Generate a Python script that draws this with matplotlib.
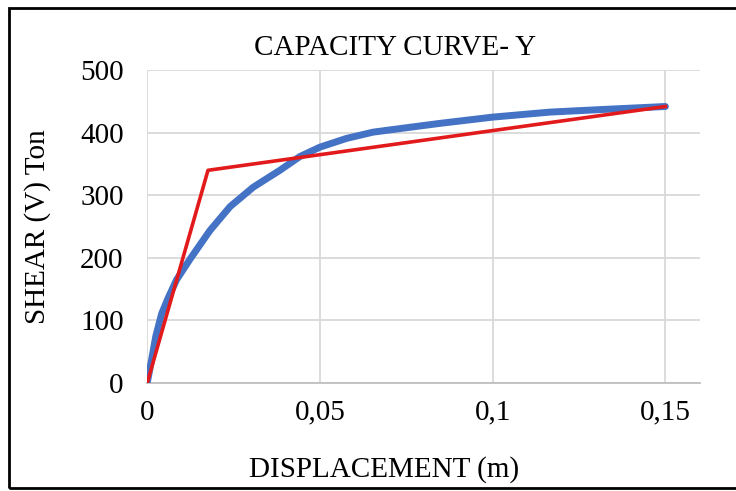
import matplotlib.pyplot as plt
from matplotlib.patches import Rectangle
from matplotlib.ticker import FuncFormatter

# capacity (pushover) curve
disp = [0.0, 0.0012, 0.0025, 0.0042, 0.006, 0.0085, 0.0124, 0.0182, 0.024,
        0.0307, 0.0384, 0.0442, 0.05, 0.0577, 0.0654, 0.075, 0.0847, 0.1,
        0.1165, 0.131, 0.15]
shear = [0, 35, 75, 111, 135, 165, 198, 244, 282,
         313, 340, 362, 377, 391, 401, 408, 415, 425,
         433, 437, 442]

# bilinear idealisation
bi_disp = [0.0, 0.0176, 0.15]
bi_shear = [0, 340, 442]

x_ticks = [0, 0.05, 0.1, 0.15]
y_ticks = [0, 100, 200, 300, 400, 500]

plt.rcParams['font.family'] = ['Liberation Serif', 'DejaVu Serif']

fig = plt.figure(figsize=(7.36, 4.91), dpi=100)
ax = fig.add_axes([0.2, 0.22, 0.751, 0.637])

ax.plot(disp, shear, color='#4472c4', lw=5, solid_capstyle='round',
        solid_joinstyle='round', zorder=3)
ax.plot(bi_disp, bi_shear, color='#e31a1c', lw=2.6, zorder=4)

ax.set_xlim(0, 0.16)
ax.set_ylim(0, 500)
ax.set_xticks(x_ticks)
ax.set_yticks(y_ticks)
ax.xaxis.set_major_formatter(FuncFormatter(lambda v, p: ('%g' % v).replace('.', ',')))
ax.tick_params(length=0, labelsize=21)
ax.tick_params(axis='x', pad=12)
ax.tick_params(axis='y', pad=17)
ax.grid(True, color='#d9d9d9', lw=1.3)
ax.set_axisbelow(True)
for s in ['top', 'right', 'left']:
    ax.spines[s].set_visible(False)
ax.spines['bottom'].set_color('#bfbfbf')
ax.spines['bottom'].set_linewidth(1.3)

# titles placed in figure coords (Excel centres them on the chart area)
fig.text(395 / 736, 1 - 48 / 491, 'CAPACITY CURVE- Y', fontsize=21,
         ha='center', va='center')
fig.text(384 / 736, 1 - 470 / 491, 'DISPLACEMENT (m)', fontsize=21,
         ha='center', va='center')
fig.text(38 / 736, 1 - 227 / 491, 'SHEAR (V) Ton', fontsize=21,
         ha='center', va='center', rotation=90)

# outer frame
fig.patches.append(Rectangle((0.012, 0.006), 1.0, 0.978, transform=fig.transFigure,
                             fill=False, edgecolor='black', lw=2))

fig.savefig('out.png', dpi=100)
